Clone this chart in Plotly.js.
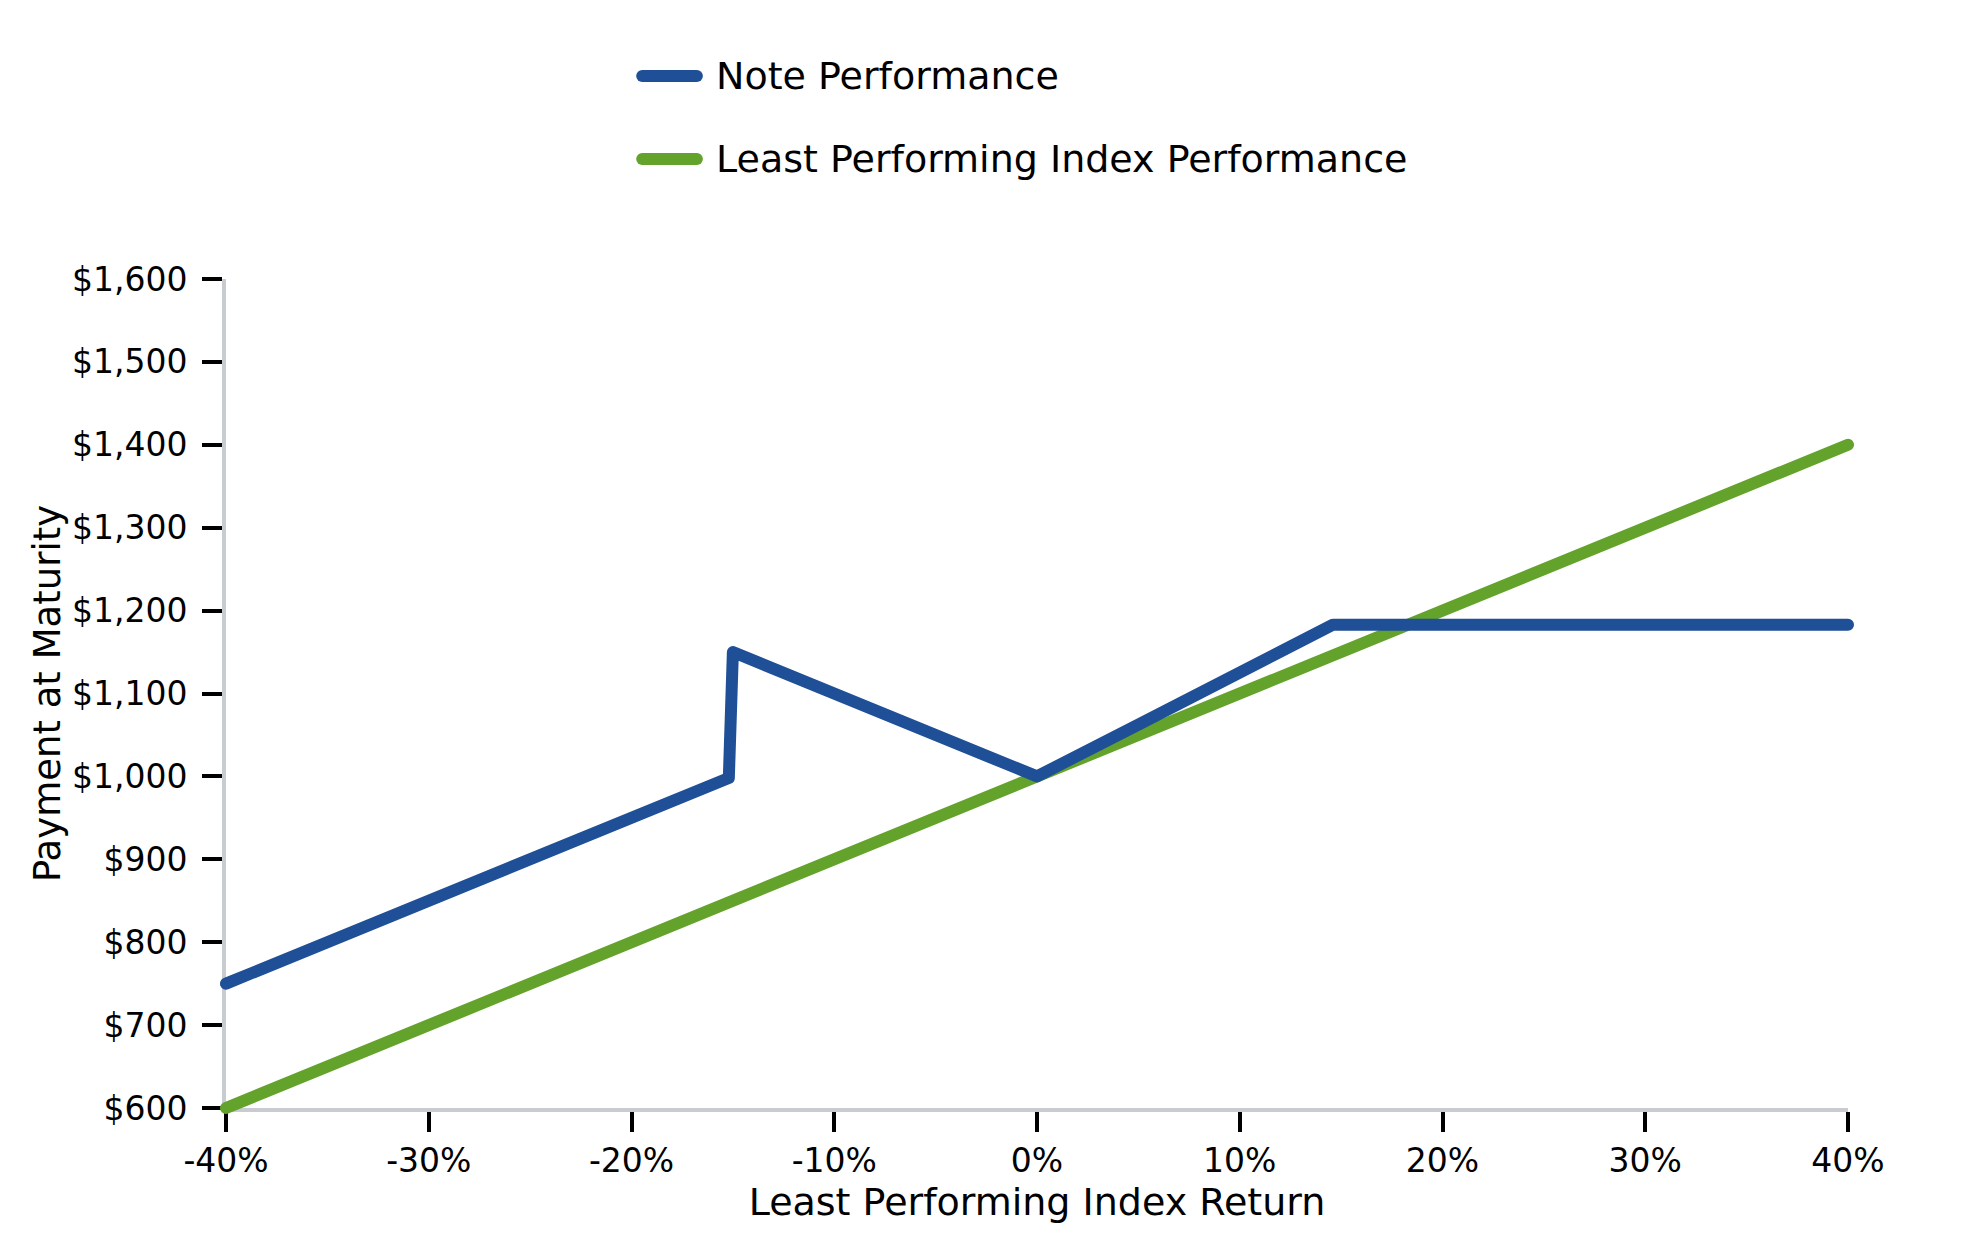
<!DOCTYPE html>
<html>
<head>
<meta charset="utf-8">
<script src="https://cdn.plot.ly/plotly-3.0.1.min.js"></script>
<style>
  html, body { margin: 0; padding: 0; background: #fff; }
  #chart { width: 1979px; height: 1250px; }
  .scatterlayer .js-line { stroke-linecap: round; stroke-linejoin: round; }
  #chart g, #chart path { clip-path: none !important; }
  .shapelayer path { stroke-linecap: round; }
</style>
</head>
<body>
<div id="chart"></div>
<script>
// Least Performing Index Return (%) breakpoints and payments
const noteX = [-40, -35, -30, -25, -20, -15.2, -15, -10, -5, 0, 5, 10, 14.6, 20, 25, 30, 35, 40];
const noteY = [750, 800, 850, 900, 950, 998, 1150, 1100, 1050, 1000, 1062.5, 1125, 1183, 1183, 1183, 1183, 1183, 1183];
const indexX = [-40, -30, -20, -10, 0, 10, 20, 30, 40];
const indexY = [600, 700, 800, 900, 1000, 1100, 1200, 1300, 1400];

const xTickVals = [-40, -30, -20, -10, 0, 10, 20, 30, 40];
const xTickText = ['-40%', '-30%', '-20%', '-10%', '0%', '10%', '20%', '30%', '40%'];
const yTickVals = [600, 700, 800, 900, 1000, 1100, 1200, 1300, 1400, 1500, 1600];
const yTickText = ['$600', '$700', '$800', '$900', '$1,000', '$1,100', '$1,200', '$1,300', '$1,400', '$1,500', '$1,600'];

const seriesNames = ['Note Performance', 'Least Performing Index Performance'];
const BLUE = '#1f4f96';
const GREEN = '#63a22b';
const FONT = 'DejaVu Sans, sans-serif';

const traces = [
  {
    x: indexX, y: indexY, type: 'scatter', mode: 'lines', name: seriesNames[1],
    line: { color: GREEN, width: 12 }, cliponaxis: false, hoverinfo: 'skip'
  },
  {
    x: noteX, y: noteY, type: 'scatter', mode: 'lines', name: seriesNames[0],
    line: { color: BLUE, width: 12 }, cliponaxis: false, hoverinfo: 'skip'
  }
];

// custom legend (paper coordinates)
const legendRows = [
  { name: seriesNames[0], color: BLUE, y: 1.245 },
  { name: seriesNames[1], color: GREEN, y: 1.1448 }
];
const shapes = legendRows.map(r => ({
  type: 'line', xref: 'paper', yref: 'paper',
  x0: 0.2566, x1: 0.2903, y0: r.y, y1: r.y,
  line: { color: r.color, width: 12 }
}));
const annotations = legendRows.map(r => ({
  xref: 'paper', yref: 'paper', x: 0.3008, y: r.y,
  xanchor: 'left', yanchor: 'middle', showarrow: false,
  text: r.name, font: { family: FONT, size: 38, color: '#000' }
}));

const layout = {
  width: 1979, height: 1250,
  margin: { l: 226, r: 131, t: 279, b: 142 },
  paper_bgcolor: '#fff', plot_bgcolor: '#fff',
  showlegend: false,
  font: { family: FONT, color: '#000' },
  xaxis: {
    range: [-40, 40], showgrid: false, zeroline: false,
    showline: true, linecolor: '#c8cbd0', linewidth: 4, layer: 'below traces',
    ticks: 'outside', ticklen: 20, tickwidth: 4, tickcolor: '#000',
    tickmode: 'array', tickvals: xTickVals, ticktext: xTickText,
    tickfont: { family: FONT, size: 33, color: '#000' },
    ticklabelstandoff: 0,
    title: { text: 'Least Performing Index Return', font: { family: FONT, size: 38, color: '#000' }, standoff: 5 }
  },
  yaxis: {
    range: [600, 1600], showgrid: false, zeroline: false,
    showline: true, linecolor: '#c8cbd0', linewidth: 4, layer: 'below traces',
    ticks: 'outside', ticklen: 20, tickwidth: 4, tickcolor: '#000',
    tickmode: 'array', tickvals: yTickVals, ticktext: yTickText,
    tickfont: { family: FONT, size: 33, color: '#000' },
    ticklabelstandoff: 8,
    title: { text: 'Payment at Maturity', font: { family: FONT, size: 37, color: '#000' }, standoff: 1 }
  },
  shapes: shapes,
  annotations: annotations
};

Plotly.newPlot('chart', traces, layout, { displayModeBar: false, staticPlot: true });
</script>
</body>
</html>
